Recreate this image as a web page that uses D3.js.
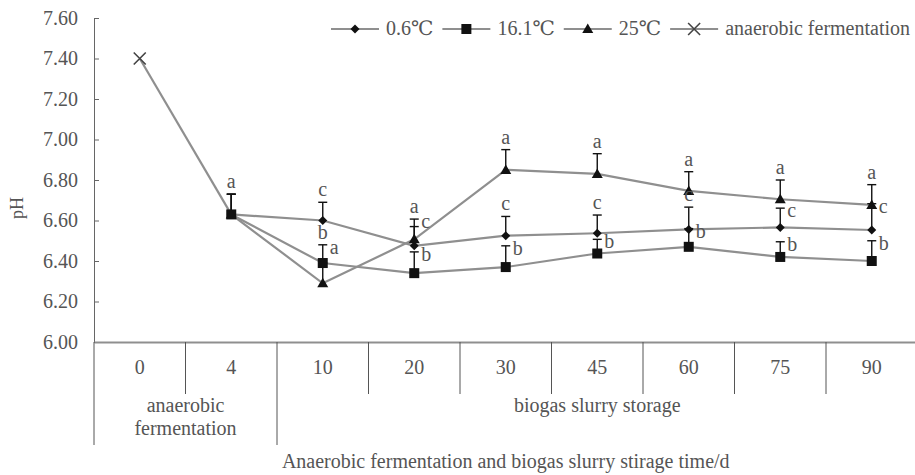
<!DOCTYPE html>
<html>
<head>
<meta charset="utf-8">
<script src="https://cdn.jsdelivr.net/npm/d3@7.8.5/dist/d3.min.js"></script>
<style>
  body { margin: 0; background: #fff; }
  svg text { font-family: "Liberation Serif", "DejaVu Serif", serif; }
</style>
</head>
<body>
<svg width="915" height="475"></svg>
<script>
const categories = ["0", "4", "10", "20", "30", "45", "60", "75", "90"];
const yTicks = [6.0, 6.2, 6.4, 6.6, 6.8, 7.0, 7.2, 7.4, 7.6];

// pH at each sampling time, null where the series has no value
const anaerobic = [7.40, 6.63, null, null, null, null, null, null, null];
const t06 = [null, 6.63, 6.60, 6.475, 6.525, 6.537, 6.556, 6.566, 6.553];
const t161 = [null, 6.63, 6.39, 6.34, 6.37, 6.437, 6.47, 6.42, 6.40];
const t25 = [null, 6.63, 6.29, 6.507, 6.85, 6.83, 6.746, 6.705, 6.677];

// upper error bars
const t06Err = [null, 0.10, 0.09, 0.095, 0.095, 0.09, 0.11, 0.095, 0.13];
const t161Err = [null, 0.10, 0.09, 0.105, 0.105, 0.07, 0.09, 0.075, 0.10];
const t25Err = [null, 0.10, 0.10, 0.10, 0.10, 0.10, 0.095, 0.095, 0.10];

// significance letters: [time, series, letter, side]
const letters = [
  ["4", "25", "a", "top"],
  ["10", "0.6", "c", "top"], ["10", "16.1", "b", "top"], ["10", "16.1", "a", "right"],
  ["20", "25", "a", "top"], ["20", "25", "c", "right"], ["20", "16.1", "b", "right"],
  ["30", "25", "a", "top"], ["30", "0.6", "c", "top"], ["30", "16.1", "b", "right"],
  ["45", "25", "a", "top"], ["45", "0.6", "c", "top"], ["45", "16.1", "b", "right"],
  ["60", "25", "a", "top"], ["60", "0.6", "c", "top"], ["60", "16.1", "b", "right"],
  ["75", "25", "a", "top"], ["75", "0.6", "c", "right"], ["75", "16.1", "b", "right"],
  ["90", "25", "a", "top"], ["90", "0.6", "c", "right"], ["90", "16.1", "b", "right"],
];

const stages = [
  { label: ["anaerobic", "fermentation"], from: "0", to: "4" },
  { label: ["biogas slurry storage"], from: "10", to: "90" },
];

const series = [
  { key: "0.6", name: "0.6\u2103", values: t06, err: t06Err, marker: "diamond" },
  { key: "16.1", name: "16.1\u2103", values: t161, err: t161Err, marker: "square" },
  { key: "25", name: "25\u2103", values: t25, err: t25Err, marker: "triangle" },
  { key: "an", name: "anaerobic fermentation", values: anaerobic, err: null, marker: "cross" },
];

const svg = d3.select("svg");
const textColor = "#555";
const lineColor = "#8f8f8f";
const fs = 20;

const x = d3.scaleBand().domain(categories).range([94, 917.5]);
const y = d3.scaleLinear().domain([6, 7.6]).range([342, 18]);
const cx = (c) => x(c) + x.bandwidth() / 2;

// y axis
const yAxis = svg.append("g")
  .attr("transform", "translate(94,0)")
  .call(d3.axisLeft(y).tickValues(yTicks).tickSize(-5).tickSizeOuter(0)
    .tickPadding(16).tickFormat(d3.format(".2f")));
yAxis.select(".domain").attr("stroke", "#666");
yAxis.selectAll(".tick line").attr("stroke", "#666");
yAxis.selectAll(".tick text").attr("fill", textColor).attr("font-size", fs);

svg.append("text")
  .attr("transform", "translate(19,208) rotate(-90)")
  .attr("text-anchor", "middle")
  .attr("dominant-baseline", "middle")
  .attr("font-size", 18)
  .attr("fill", textColor)
  .text("pH");

// x axis with category table below it
const xAxis = svg.append("g")
  .attr("transform", "translate(0,342)")
  .call(d3.axisBottom(x).tickSize(0).tickPadding(18));
xAxis.select(".domain").attr("stroke", lineColor).attr("stroke-width", 2.2);
xAxis.selectAll(".tick text").attr("fill", textColor).attr("font-size", fs);

const stageEdges = new Set(stages.map((s) => s.from));
const edges = categories.slice(1).map((c) => ({ c, long: stageEdges.has(c) }));
edges.unshift({ c: categories[0], long: true });
svg.append("g")
  .selectAll("line")
  .data(edges)
  .join("line")
  .attr("x1", (d) => x(d.c))
  .attr("x2", (d) => x(d.c))
  .attr("y1", y(6))
  .attr("y2", (d) => (d.long ? 445 : 394))
  .attr("stroke", "#555")
  .attr("stroke-width", 1);

stages.forEach((s) => {
  const mid = (x(s.from) + x(s.to) + x.bandwidth()) / 2;
  const t = svg.append("text")
    .attr("text-anchor", "middle")
    .attr("font-size", fs)
    .attr("fill", textColor);
  s.label.forEach((line, i) => {
    t.append("tspan").attr("x", mid).attr("y", 412 + i * 23).text(line);
  });
});

svg.append("text")
  .attr("x", (x.range()[0] + x.range()[1]) / 2)
  .attr("y", 468)
  .attr("text-anchor", "middle")
  .attr("font-size", fs)
  .attr("fill", textColor)
  .text("Anaerobic fermentation and biogas slurry stirage time/d");

// lines
const line = d3.line()
  .defined((d) => d.v != null)
  .x((d) => cx(d.c))
  .y((d) => y(d.v));

series.forEach((s) => {
  svg.append("path")
    .datum(categories.map((c, i) => ({ c, v: s.values[i] })))
    .attr("fill", "none")
    .attr("stroke", lineColor)
    .attr("stroke-width", 2.2)
    .attr("d", line);
});

// error bars (upper only)
series.filter((s) => s.err).forEach((s) => {
  const g = svg.append("g").attr("stroke", "#111").attr("stroke-width", 1.4);
  categories.forEach((c, i) => {
    if (s.values[i] == null) return;
    const top = y(s.values[i] + s.err[i]);
    g.append("line").attr("x1", cx(c)).attr("x2", cx(c))
      .attr("y1", y(s.values[i])).attr("y2", top);
    g.append("line").attr("x1", cx(c) - 4.5).attr("x2", cx(c) + 4.5)
      .attr("y1", top).attr("y2", top);
  });
});

// markers
function drawMarker(g, type, px, py) {
  if (type === "diamond") {
    g.append("path").attr("d", `M${px},${py - 4.5}L${px + 4.5},${py}L${px},${py + 4.5}L${px - 4.5},${py}Z`)
      .attr("fill", "#111");
  } else if (type === "square") {
    g.append("rect").attr("x", px - 5).attr("y", py - 5).attr("width", 10).attr("height", 10)
      .attr("fill", "#111");
  } else if (type === "triangle") {
    g.append("path").attr("d", `M${px},${py - 5.5}L${px + 5.5},${py + 4}L${px - 5.5},${py + 4}Z`)
      .attr("fill", "#111");
  } else {
    g.append("path").attr("d", `M${px - 6},${py - 6}L${px + 6},${py + 6}M${px + 6},${py - 6}L${px - 6},${py + 6}`)
      .attr("stroke", "#444").attr("stroke-width", 1.6).attr("fill", "none");
  }
}

const markers = svg.append("g");
series.forEach((s) => {
  categories.forEach((c, i) => {
    if (s.values[i] == null) return;
    if (s.marker === "cross" && i > 0) return;
    drawMarker(markers, s.marker, cx(c), y(s.values[i]));
  });
});

// significance letters
const byKey = Object.fromEntries(series.map((s) => [s.key, s]));
svg.append("g")
  .selectAll("text")
  .data(letters)
  .join("text")
  .attr("font-size", fs)
  .attr("fill", textColor)
  .attr("text-anchor", (d) => (d[3] === "top" ? "middle" : "start"))
  .attr("x", (d) => (d[3] === "top" ? cx(d[0]) : cx(d[0]) + 7))
  .attr("y", (d) => {
    const s = byKey[d[1]];
    const i = categories.indexOf(d[0]);
    const top = y(s.values[i] + s.err[i]);
    return d[3] === "top" ? top - 6 : top + 9;
  })
  .text((d) => d[2]);

// legend
const legend = svg.append("g").attr("transform", "translate(331,29)");
let lx = 0;
series.forEach((s) => {
  legend.append("line").attr("x1", lx).attr("x2", lx + 48).attr("y1", 0).attr("y2", 0)
    .attr("stroke", lineColor).attr("stroke-width", 2.2);
  drawMarker(legend, s.marker, lx + 24, 0);
  const t = legend.append("text")
    .attr("x", lx + 55)
    .attr("y", 6)
    .attr("font-size", fs)
    .attr("fill", textColor)
    .text(s.name);
  lx += 55 + t.node().getComputedTextLength() + 9;
});
</script>
</body>
</html>
